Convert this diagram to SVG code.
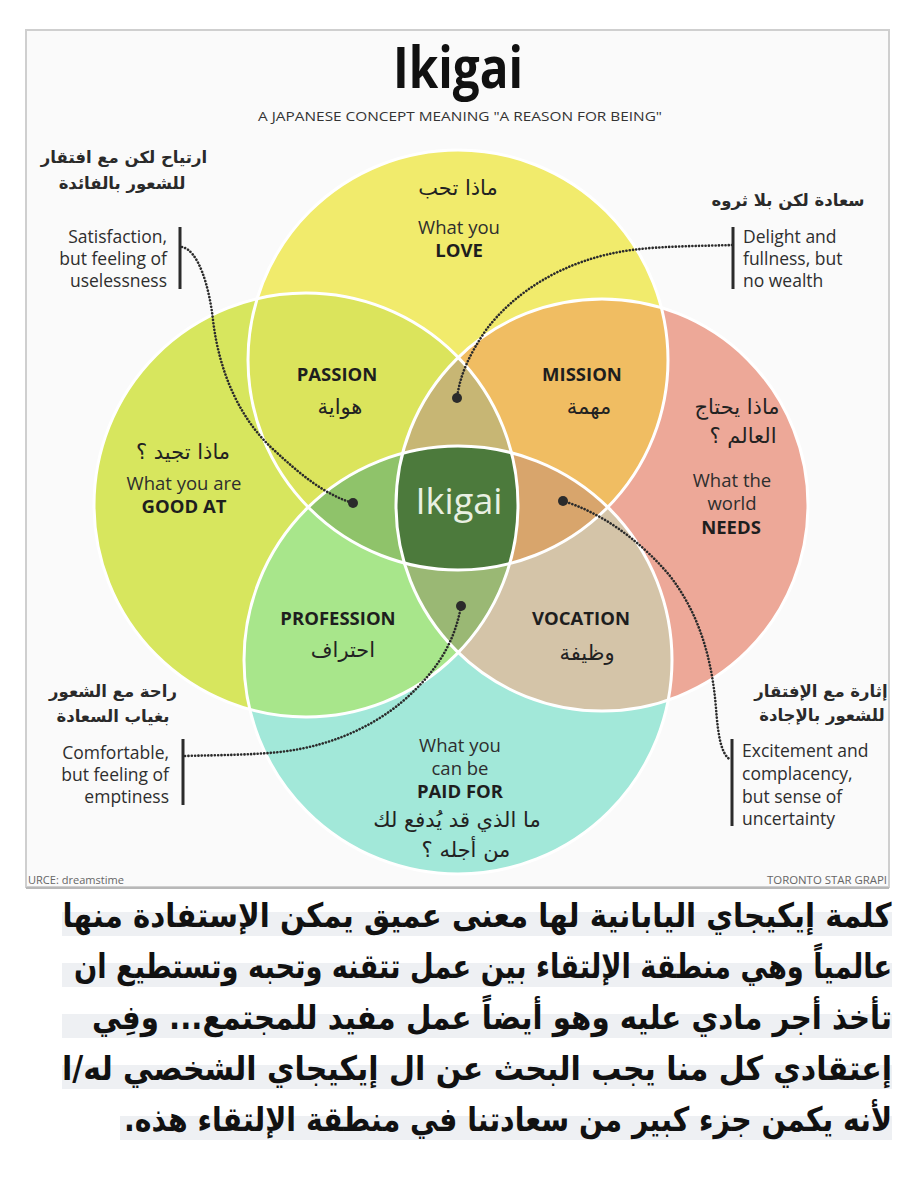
<svg xmlns="http://www.w3.org/2000/svg" width="910" height="1183" viewBox="0 0 910 1183">
<style>
.en{font-family:"Open Sans","Liberation Sans",sans-serif;fill:#2e2e2e;font-size:18.5px;}
.note{font-size:17.5px;}
.b{font-weight:700;fill:#1e1e1e;}
.ar{font-family:"DejaVu Sans","Noto Sans",sans-serif;fill:#222;direction:rtl;}
.lab{font-size:21px;}
.ann{font-size:16.5px;font-weight:700;fill:#2a2a2a;}
.mid{text-anchor:middle;}
.end{text-anchor:end;}
.bar{stroke:#2b2b2b;stroke-width:3;fill:none;}
.dot{fill:#2b2b2b;}
.con{stroke:#2b2b2b;stroke-width:2.6;fill:none;stroke-dasharray:0.1 3.2;stroke-linecap:round;}
.edge{fill:none;stroke:#ffffff;stroke-width:3;}
.para{font-family:"DejaVu Sans","Noto Sans",sans-serif;font-weight:700;font-size:27px;fill:#111;direction:rtl;text-anchor:middle;}
.band{fill:#eef0f3;}
</style>
<defs>
<clipPath id="cT"><circle cx="458" cy="360" r="210"/></clipPath>
<clipPath id="cB"><circle cx="458" cy="660" r="214"/></clipPath>
<clipPath id="cL"><circle cx="306" cy="505" r="212"/></clipPath>
<clipPath id="cR"><circle cx="602" cy="505" r="206"/></clipPath>
</defs>
<rect x="0" y="0" width="910" height="1183" fill="#ffffff"/>
<g id="panel">
<rect x="26" y="30" width="863" height="857" fill="#fafafa" stroke="#cfcfcf" stroke-width="2"/>
<line x1="26" y1="888" x2="889" y2="888" stroke="#b8b8b8" stroke-width="2"/>
</g>
<g id="title">
<text x="458" y="88" class="en mid" style="font-size:58px;font-weight:700;fill:#111" textLength="130" lengthAdjust="spacingAndGlyphs">Ikigai</text>
<text x="460" y="121" class="en mid" style="font-size:12.5px;fill:#333" textLength="404" lengthAdjust="spacingAndGlyphs">A JAPANESE CONCEPT MEANING "A REASON FOR BEING"</text>
</g>
<g id="circle-love"><circle cx="458" cy="360" r="210" fill="#f1eb6c"/></g>
<g id="circle-good-at"><circle cx="306" cy="505" r="212" fill="#d7e65e"/></g>
<g id="circle-needs"><circle cx="602" cy="505" r="206" fill="#eda898"/></g>
<g id="circle-paid"><circle cx="458" cy="660" r="214" fill="#a2e8d9"/></g>
<g id="passion"><g clip-path="url(#cT)"><circle cx="306" cy="505" r="212" fill="#dbe45c"/></g></g>
<g id="mission"><g clip-path="url(#cT)"><circle cx="602" cy="505" r="206" fill="#f0bd62"/></g></g>
<g id="profession"><g clip-path="url(#cB)"><circle cx="306" cy="505" r="212" fill="#a8e68b"/></g></g>
<g id="vocation"><g clip-path="url(#cB)"><circle cx="602" cy="505" r="206" fill="#d4c4a8"/></g></g>
<g id="top-center"><g clip-path="url(#cT)"><g clip-path="url(#cL)"><circle cx="602" cy="505" r="206" fill="#c7b674"/></g></g></g>
<g id="left-center"><g clip-path="url(#cT)"><g clip-path="url(#cL)"><circle cx="458" cy="660" r="214" fill="#8fc36a"/></g></g></g>
<g id="right-center"><g clip-path="url(#cT)"><g clip-path="url(#cR)"><circle cx="458" cy="660" r="214" fill="#d8a56c"/></g></g></g>
<g id="bottom-center"><g clip-path="url(#cB)"><g clip-path="url(#cL)"><circle cx="602" cy="505" r="206" fill="#9ab874"/></g></g></g>
<g id="ikigai-center"><g clip-path="url(#cT)"><g clip-path="url(#cB)"><g clip-path="url(#cL)"><circle cx="602" cy="505" r="206" fill="#4c7a3c"/></g></g></g></g>
<g id="edges">
<circle class="edge" cx="458" cy="360" r="210"/>
<circle class="edge" cx="306" cy="505" r="212"/>
<circle class="edge" cx="602" cy="505" r="206"/>
<circle class="edge" cx="458" cy="660" r="214"/>
</g>
<g id="labels-love">
<text x="458" y="195" class="ar lab mid">ماذا تحب</text>
<text x="459" y="234" class="en mid">What you</text>
<text x="459" y="257" class="en b mid">LOVE</text>
</g>
<g id="labels-passion">
<text x="337" y="381" class="en b mid">PASSION</text>
<text x="340" y="414" class="ar lab mid">هواية</text>
</g>
<g id="labels-mission">
<text x="582" y="381" class="en b mid">MISSION</text>
<text x="589" y="414" class="ar lab mid">مهمة</text>
</g>
<g id="labels-good-at">
<text x="183" y="459" class="ar lab mid">ماذا تجيد ؟</text>
<text x="184" y="490" class="en mid">What you are</text>
<text x="184" y="513" class="en b mid">GOOD AT</text>
</g>
<g id="labels-needs">
<text x="737" y="414" class="ar lab mid">ماذا يحتاج</text>
<text x="743" y="443" class="ar lab mid">العالم ؟</text>
<text x="732" y="487" class="en mid">What the</text>
<text x="732" y="510" class="en mid">world</text>
<text x="731" y="534" class="en b mid">NEEDS</text>
</g>
<g id="labels-ikigai">
<text x="459" y="514" class="en mid" style="font-size:36px;fill:#e9f0e2" textLength="87" lengthAdjust="spacingAndGlyphs">Ikigai</text>
</g>
<g id="labels-profession">
<text x="338" y="625" class="en b mid">PROFESSION</text>
<text x="343" y="657" class="ar lab mid">احتراف</text>
</g>
<g id="labels-vocation">
<text x="581" y="625" class="en b mid">VOCATION</text>
<text x="587" y="660" class="ar lab mid">وظيفة</text>
</g>
<g id="labels-paid">
<text x="460" y="752" class="en mid">What you</text>
<text x="460" y="775" class="en mid">can be</text>
<text x="460" y="798" class="en b mid">PAID FOR</text>
<text x="457" y="827" class="ar lab mid">ما الذي قد يُدفع لك</text>
<text x="466" y="857" class="ar lab mid">من أجله ؟</text>
</g>
<g id="note-satisfaction">
<text x="124" y="163" class="ar ann mid">ارتياح لكن مع افتقار</text>
<text x="122" y="189" class="ar ann mid">للشعور بالفائدة</text>
<text x="167" y="243" class="en note end">Satisfaction,</text>
<text x="167" y="265" class="en note end">but feeling of</text>
<text x="167" y="287" class="en note end">uselessness</text>
<line class="bar" x1="180" y1="227" x2="180" y2="289"/>
</g>
<g id="note-delight">
<text x="788" y="206" class="ar ann mid">سعادة لكن بلا ثروه</text>
<text x="743" y="243" class="en note">Delight and</text>
<text x="743" y="265" class="en note">fullness, but</text>
<text x="743" y="287" class="en note">no wealth</text>
<line class="bar" x1="733" y1="227" x2="733" y2="289"/>
</g>
<g id="note-comfortable">
<text x="113" y="697" class="ar ann mid">راحة مع الشعور</text>
<text x="113" y="722" class="ar ann mid">بغياب السعادة</text>
<text x="169" y="759" class="en note end">Comfortable,</text>
<text x="169" y="781" class="en note end">but feeling of</text>
<text x="169" y="803" class="en note end">emptiness</text>
<line class="bar" x1="183" y1="739" x2="183" y2="805"/>
</g>
<g id="note-excitement">
<text x="821" y="697" class="ar ann mid">إثارة مع الإفتقار</text>
<text x="822" y="721" class="ar ann mid">للشعور بالإجادة</text>
<text x="742" y="757" class="en note">Excitement and</text>
<text x="742" y="780" class="en note">complacency,</text>
<text x="742" y="803" class="en note">but sense of</text>
<text x="742" y="825" class="en note">uncertainty</text>
<line class="bar" x1="732" y1="739" x2="732" y2="826"/>
</g>
<g id="connectors">
<path class="con" d="M182,247 C198,250 209,285 213,320 C219,372 240,420 275,451 C300,474 325,495 353,503"/>
<path class="con" d="M732,245 C700,246 662,246 632,250 C562,259 512,295 486,330 C469,355 460,375 457,398"/>
<path class="con" d="M185,756 C220,755 250,755 280,752 C340,745 385,720 415,690 C440,665 455,640 461,606"/>
<path class="con" d="M563,501 C600,512 640,540 670,576 C700,615 712,660 716,708 C718,735 721,755 731,760"/>
<circle class="dot" cx="353" cy="503" r="5"/>
<circle class="dot" cx="457" cy="398" r="5"/>
<circle class="dot" cx="461" cy="606" r="5"/>
<circle class="dot" cx="563" cy="501" r="5"/>
</g>
<g id="credits">
<text x="28" y="884" class="en" style="font-size:10px;fill:#666" textLength="96" lengthAdjust="spacingAndGlyphs">URCE: dreamstime</text>
<text x="887" y="884" class="en end" style="font-size:10px;fill:#666" textLength="120" lengthAdjust="spacingAndGlyphs">TORONTO STAR GRAPI</text>
</g>
<g id="paragraph">
<rect class="band" x="62" y="912" width="830" height="24"/>
<rect class="band" x="62" y="963" width="830" height="24"/>
<rect class="band" x="62" y="1014" width="830" height="24"/>
<rect class="band" x="62" y="1065" width="830" height="24"/>
<rect class="band" x="120" y="1116" width="772" height="24"/>
<text transform="translate(477,927) scale(1,1.24)" x="0" y="0" class="para" textLength="829" lengthAdjust="spacingAndGlyphs">كلمة إيكيجاي اليابانية لها معنى عميق يمكن الإستفادة منها</text>
<text transform="translate(483,978) scale(1,1.3)" x="0" y="0" class="para" style="font-size:26px" textLength="818" lengthAdjust="spacingAndGlyphs">عالمياً وهي منطقة الإلتقاء بين عمل تتقنه وتحبه وتستطيع ان</text>
<text transform="translate(492,1029) scale(1,1.24)" x="0" y="0" class="para" textLength="800" lengthAdjust="spacingAndGlyphs">تأخذ أجر مادي عليه وهو أيضاً عمل مفيد للمجتمع... وفِي</text>
<text transform="translate(477,1080) scale(1,1.24)" x="0" y="0" class="para" textLength="830" lengthAdjust="spacingAndGlyphs">إعتقادي كل منا يجب البحث عن ال إيكيجاي الشخصي له/ا</text>
<text transform="translate(508,1131) scale(1,1.24)" x="0" y="0" class="para" textLength="768" lengthAdjust="spacingAndGlyphs">لأنه يكمن جزء كبير من سعادتنا في منطقة الإلتقاء هذه.</text>
</g>
</svg>
